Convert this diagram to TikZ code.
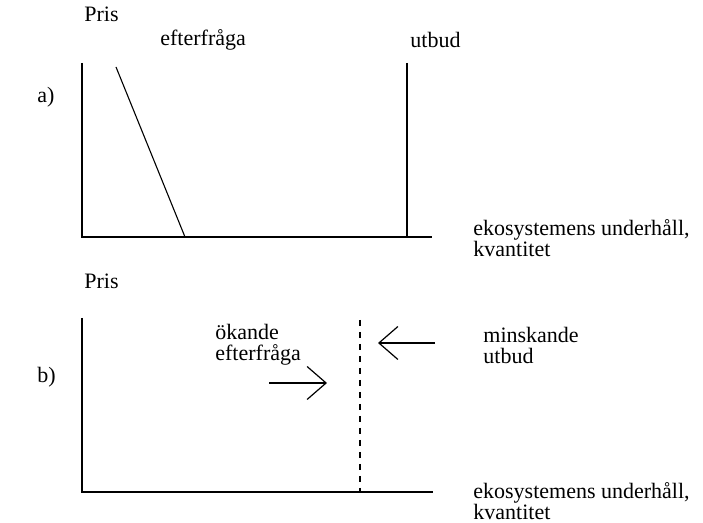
\documentclass[tikz,border=0pt]{standalone}
\usepackage{fontspec}
\setmainfont{Liberation Serif}
\usepackage{tikz}
\usetikzlibrary{arrows.meta}
\usetikzlibrary{calc}

\begin{document}
\begin{tikzpicture}[x=0.5pt, y=-0.5pt,
	lbl/.style={anchor=west, inner sep=0pt, font=\fontsize{11}{10.5}\selectfont, align=left},
	axis/.style={line width=0.9pt},
	curve/.style={line width=0.55pt},
	shiftarrow/.style={line width=0.6pt, -{Straight Barb[length=9.5pt, width=16.5pt, line width=0.6pt]}}
]
\useasboundingbox (0,0) rectangle (703,523);
% a) ursprunglig situation
\coordinate (a-top) at (82,63);
\coordinate (a-o) at (82,237);
\coordinate (a-end) at (432,237);
\node[lbl] (a-pris) at (84,14) {Pris};
\node[lbl] (a-lab) at (37,97) {a)};
\node[lbl] (a-eft) at (160,40) {efterfråga};
\node[lbl] (a-utb) at (410,40) {utbud};
\node[lbl] (a-kv) at (473,238) {ekosystemens underhåll,\\kvantitet};
\draw[axis] (a-top) -- (a-o) -- (a-end);
\coordinate (d1) at (116,67);
\coordinate (d2) at (185,237);
\coordinate (s1) at (407,63);
\coordinate (s2) at (407,237);
\draw[curve] (d1) -- (d2);
\draw[curve] (s1) -- (s2);
% b) förskjutning
\coordinate (b-top) at (82,318);
\coordinate (b-o) at (82,492);
\coordinate (b-end) at (433,492);
\node[lbl] (b-pris) at (84,281) {Pris};
\node[lbl] (b-lab) at (37,377) {b)};
\node[lbl] (b-eft) at (215,345) {ökande\\efterfråga};
\node[lbl] (b-utb) at (483,345) {minskande\\utbud};
\node[lbl] (b-kv) at (473,501) {ekosystemens underhåll,\\kvantitet};
\draw[axis] (b-top) -- (b-o) -- (b-end);
\coordinate (eq1) at (360,320);
\coordinate (eq2) at (360,492);
\draw[curve, dash pattern=on 3pt off 3pt] (eq1) -- (eq2);
\coordinate (ua) at (435,343);
\coordinate (ub) at (378,343);
\coordinate (ea) at (269,383);
\coordinate (eb) at (327,383);
\draw[shiftarrow] (ua) -- (ub);
\draw[shiftarrow] (ea) -- (eb);
\end{tikzpicture}
\end{document}
